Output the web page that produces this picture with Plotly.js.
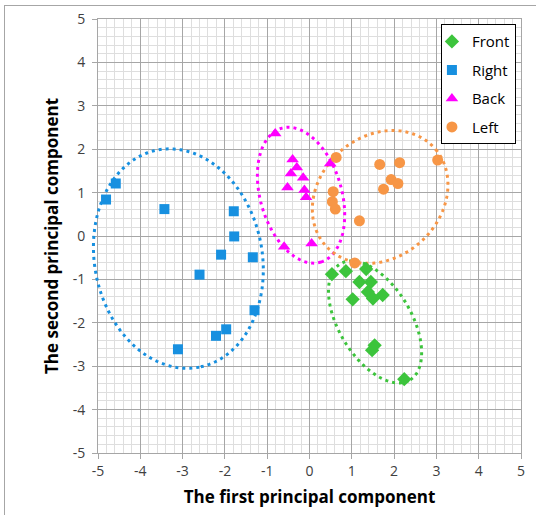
<!DOCTYPE html>
<html>
<head>
<meta charset="utf-8">
<script src="https://cdn.plot.ly/plotly-3.0.1.min.js"></script>
<style>
  html, body { margin: 0; padding: 0; background: #fff; }
  #frame { position: absolute; left: 4px; top: 5px; width: 540px; height: 520px;
           border-left: 1px solid #a6a6a6; border-top: 1px solid #a6a6a6; }
  #chart { position: absolute; left: 0; top: 0; width: 536px; height: 515px; }
</style>
</head>
<body>
<div id="frame"></div>
<div id="chart"></div>
<script>
// ---- data ----
const frontX = [0.53, 0.86, 1.34, 1.18, 1.45, 1.38, 1.73, 1.50, 1.02, 1.54, 1.48, 2.24];
const frontY = [-0.88, -0.81, -0.76, -1.06, -1.06, -1.29, -1.36, -1.44, -1.46, -2.52, -2.63, -3.30];

const rightX = [-4.58, -4.81, -3.43, -1.79, -1.78, -2.09, -1.34, -2.60, -1.30, -1.97, -2.21, -3.11];
const rightY = [1.21, 0.84, 0.62, 0.57, -0.01, -0.43, -0.49, -0.89, -1.71, -2.15, -2.30, -2.61];

const backX = [-0.81, -0.40, 0.49, -0.30, -0.44, -0.15, -0.52, -0.12, -0.08, -0.60, 0.05];
const backY = [2.36, 1.76, 1.67, 1.58, 1.44, 1.34, 1.12, 1.06, 0.89, -0.25, -0.17];

const leftX = [0.63, 1.66, 2.13, 3.03, 1.93, 2.09, 1.75, 0.56, 0.54, 0.61, 1.18, 1.07];
const leftY = [1.81, 1.65, 1.69, 1.75, 1.30, 1.21, 1.08, 1.02, 0.79, 0.62, 0.35, -0.62];

const seriesNames = ["Front", "Right", "Back", "Left"];
const tickVals = [-5, -4, -3, -2, -1, 0, 1, 2, 3, 4, 5];
const axisRange = [-5, 5];

// ---- ellipse outlines: centre x, centre y, semi-axis a, semi-axis b, angle (deg) ----
const ellFront = [1.55, -1.98, 1.57, 0.85, -58];
const ellRight = [-3.10, -0.52, 2.55, 1.98, -78];
const ellBack  = [-0.20, 0.94, 1.61, 0.96, -73];
const ellLeft  = [1.67, 0.90, 1.71, 1.41, 38];

const colFront = "#3cc43c", colRight = "#1790e0", colBack = "#ff00ff", colLeft = "#f79646";

// ellipse outline as a path shape. In data units (drawn between grid and markers),
// or, when it pokes past the axis edge, in domain fractions so it is not clipped.
function ellipseShape(p, color, unclipped) {
  const [cx, cy, a, b, deg] = p;
  const t = deg * Math.PI / 180;
  const span = axisRange[1] - axisRange[0];
  let d = "";
  for (let i = 0; i <= 240; i++) {
    const s = 2 * Math.PI * i / 240;
    const u = a * Math.cos(s), v = b * Math.sin(s);
    let x = cx + u * Math.cos(t) - v * Math.sin(t);
    let y = cy + u * Math.sin(t) + v * Math.cos(t);
    if (unclipped) { x = (x - axisRange[0]) / span; y = (y - axisRange[0]) / span; }
    d += (i === 0 ? "M" : "L") + x.toFixed(5) + "," + y.toFixed(5);
  }
  return {type: "path", path: d + "Z",
          xref: unclipped ? "x domain" : "x", yref: unclipped ? "y domain" : "y",
          layer: unclipped ? "above" : "between",
          line: {color: color, width: 3, dash: "3px,4px"}};
}

const traces = [
  {x: frontX, y: frontY, name: seriesNames[0], type: "scatter", mode: "markers", legendgroup: "a",
   marker: {symbol: "diamond", size: 11, color: colFront}},
  {x: rightX, y: rightY, name: seriesNames[1], type: "scatter", mode: "markers", legendgroup: "b",
   marker: {symbol: "square", size: 10, color: colRight}},
  {x: backX, y: backY, name: seriesNames[2], type: "scatter", mode: "markers", legendgroup: "c",
   marker: {symbol: "triangle-up", size: 11, color: colBack}},
  {x: leftX, y: leftY, name: seriesNames[3], type: "scatter", mode: "markers", legendgroup: "d",
   marker: {symbol: "circle", size: 11, color: colLeft}}
];

const axisCommon = {
  range: axisRange, tickvals: tickVals, ticktext: tickVals.map(String),
  showgrid: true, gridcolor: "#a6a6a6", gridwidth: 1,
  zeroline: false, showline: true, linecolor: "#a6a6a6", linewidth: 1, mirror: true,
  ticks: "outside", ticklen: 5, tickcolor: "#a6a6a6",
  tickfont: {family: "Open Sans, sans-serif", size: 14, color: "#404040"},
  minor: {dtick: 0.2, showgrid: true, gridcolor: "#dedede", gridwidth: 1},
  fixedrange: true
};

const layout = {
  width: 536, height: 515,
  margin: {l: 98, r: 15, t: 19, b: 62},
  paper_bgcolor: "rgba(0,0,0,0)", plot_bgcolor: "#fff",
  xaxis: Object.assign({}, axisCommon, {
    title: {text: "The first principal component", standoff: 12,
            font: {family: "Open Sans, sans-serif", size: 17, color: "#000", weight: "bold"}}
  }),
  yaxis: Object.assign({}, axisCommon, {
    ticklabelstandoff: 4,
    title: {text: "The second principal component", standoff: 9,
            font: {family: "Open Sans, sans-serif", size: 17, color: "#000", weight: "bold"}}
  }),
  shapes: [
    ellipseShape(ellRight, colRight, true),
    ellipseShape(ellBack, colBack, false),
    ellipseShape(ellLeft, colLeft, false),
    ellipseShape(ellFront, colFront, false)
  ],
  legend: {x: 0.988, y: 0.988, xanchor: "right", yanchor: "top",
           bgcolor: "#fff", bordercolor: "#000", borderwidth: 1,
           font: {family: "Open Sans, sans-serif", size: 15, color: "#000"},
           tracegroupgap: 6, indentation: -10},
  showlegend: true
};

Plotly.newPlot("chart", traces, layout, {staticPlot: true});
</script>
</body>
</html>
